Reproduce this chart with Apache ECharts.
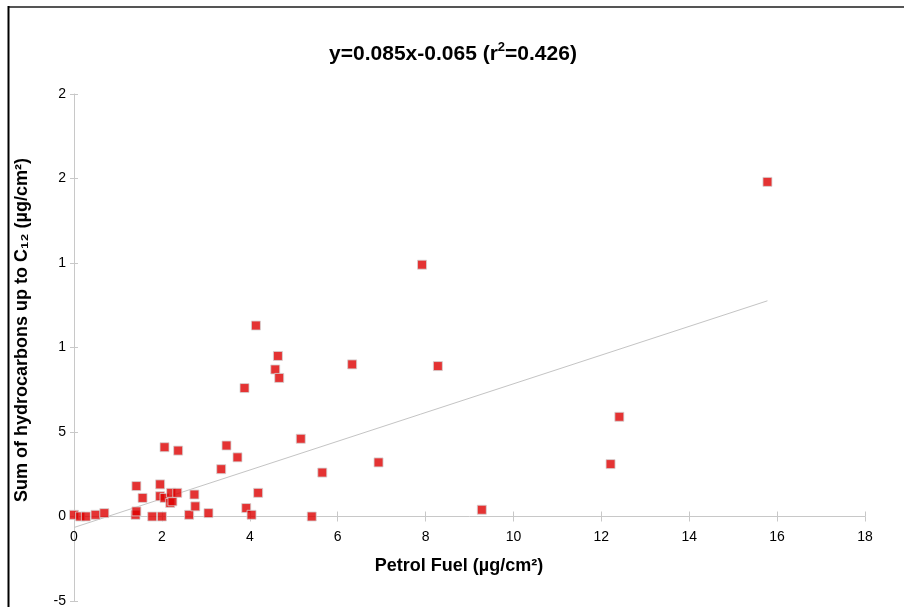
<!DOCTYPE html>
<html>
<head>
<meta charset="utf-8">
<title>Petrol fuel vs hydrocarbons</title>
<script src="https://cdn.jsdelivr.net/npm/echarts@6/dist/echarts.min.js"></script>
<style>
  html, body { margin: 0; padding: 0; background: #fff; }
  #chart { width: 904px; height: 607px; }
</style>
</head>
<body>
<div id="chart"></div>
<script>
// Petrol fuel deposit (µg/cm²) for each sample
var petrolFuel = [
  0.00, 0.14, 0.27, 0.49, 0.69, 1.40, 1.42, 1.42, 1.56, 1.78,
  1.96, 1.96, 2.00, 2.06, 2.06, 2.19, 2.24, 2.21, 2.35, 2.37,
  2.62, 2.74, 2.76, 3.06, 3.35, 3.47, 3.72, 3.88, 3.92, 4.04,
  4.14, 4.19, 4.58, 4.64, 4.67, 5.16, 5.41, 5.65, 6.33, 6.93,
  7.92, 8.28, 9.28, 12.21, 12.41, 15.78
];
// Sum of hydrocarbons up to C12 (µg/cm²) for the same samples
var hydrocarbons = [
  0.01, 0.00, 0.00, 0.01, 0.02, 0.01, 0.03, 0.18, 0.11, 0.00,
  0.19, 0.12, 0.00, 0.41, 0.11, 0.08, 0.09, 0.14, 0.14, 0.39,
  0.01, 0.13, 0.06, 0.02, 0.28, 0.42, 0.35, 0.76, 0.05, 0.01,
  1.13, 0.14, 0.87, 0.95, 0.82, 0.46, 0.00, 0.26, 0.90, 0.32,
  1.49, 0.89, 0.04, 0.31, 0.59, 1.98
];
// Linear fit stated in the title
var fitSlope = 0.085;
var fitIntercept = -0.065;
var fitR2 = 0.426;

// Axis ranges, tick values and the labels printed beside them
var xRange = [0, 18];
var yRange = [-0.5, 2.5];
var yTickValues = [-0.5, 0, 0.5, 1, 1.5, 2, 2.5];
var yTickLabels = ['-5', '0', '5', '1', '1', '2', '2'];
var xTickLabels = ['0', '2', '4', '6', '8', '10', '12', '14', '16', '18'];

var points = petrolFuel.map(function (x, i) { return [x, hydrocarbons[i]]; });
var xMin = Math.min.apply(null, petrolFuel);
var xMax = Math.max.apply(null, petrolFuel);
var fitLine = [
  [xMin, fitSlope * xMin + fitIntercept],
  [xMax, fitSlope * xMax + fitIntercept]
];

var FONT = "'Liberation Sans', Arial, Helvetica, sans-serif";
var AXIS_GREY = '#c8c8c8';

// Plot area geometry
var W = 904, H = 607;
var PLOT = { left: 74, right: 39, top: 94, bottom: 6 };
var plotHeight = H - PLOT.top - PLOT.bottom;
// pixel row of y = 0 inside the plot area
var zeroRow = PLOT.top + plotHeight * (yRange[1] - 0) / (yRange[1] - yRange[0]);

function yLabel(v) {
  for (var i = 0; i < yTickValues.length; i++) {
    if (Math.abs(yTickValues[i] - v) < 1e-6) return yTickLabels[i];
  }
  return '';
}
function xLabel(v) {
  var i = Math.round(v / 2);
  return xTickLabels[i] !== undefined ? xTickLabels[i] : '';
}

var chart = echarts.init(document.getElementById('chart'), null, { renderer: 'canvas' });

var titleText = '{m|y=' + fitSlope.toFixed(3) + 'x' + fitIntercept.toFixed(3) + ' (r}{s|2}{m|=' + fitR2.toFixed(3) + ')}';

var hiddenY = function (gi) {
  return { type: 'value', gridIndex: gi, min: 0, max: 1, show: false };
};

var option = {
  backgroundColor: '#ffffff',
  animation: false,
  title: {
    text: titleText,
    left: 448,
    top: 36,
    textAlign: 'center',
    textStyle: {
      fontFamily: FONT, fontSize: 21, fontWeight: 'bold', color: '#000',
      rich: {
        m: { fontFamily: FONT, fontSize: 21, fontWeight: 'bold', color: '#000', verticalAlign: 'bottom', lineHeight: 24 },
        s: { fontFamily: FONT, fontSize: 13, fontWeight: 'bold', color: '#000', verticalAlign: 'top', lineHeight: 24, padding: [0, 0, 9, 0] }
      }
    }
  },
  grid: [
    // data area
    { left: PLOT.left, right: PLOT.right, top: PLOT.top, bottom: PLOT.bottom, containLabel: false, outerBoundsMode: 'none' },
    // band ending at y = 0: carries the x axis line, lower tick halves and labels
    { left: PLOT.left, right: PLOT.right, top: PLOT.top, bottom: H - zeroRow, containLabel: false, outerBoundsMode: 'none' },
    // band starting at y = 0: carries the upper tick halves
    { left: PLOT.left, right: PLOT.right, top: zeroRow, bottom: PLOT.bottom, containLabel: false, outerBoundsMode: 'none' }
  ],
  xAxis: [
    { type: 'value', gridIndex: 0, min: xRange[0], max: xRange[1], interval: 2, show: false },
    {
      type: 'value', gridIndex: 1, min: xRange[0], max: xRange[1], interval: 2, position: 'bottom',
      axisLine: { show: true, onZero: false, lineStyle: { color: AXIS_GREY, width: 1 } },
      axisTick: { show: true, inside: false, length: 5, lineStyle: { color: AXIS_GREY } },
      axisLabel: { formatter: xLabel, margin: 14, color: '#000', fontFamily: FONT, fontSize: 14 },
      splitLine: { show: false }
    },
    {
      type: 'value', gridIndex: 2, min: xRange[0], max: xRange[1], interval: 2, position: 'top',
      axisLine: { show: false, onZero: false },
      axisTick: { show: true, inside: false, length: 5, lineStyle: { color: AXIS_GREY } },
      axisLabel: { show: false },
      splitLine: { show: false }
    }
  ],
  yAxis: [
    {
      type: 'value', gridIndex: 0, min: yRange[0], max: yRange[1], interval: 0.5, position: 'left',
      axisLine: { show: true, onZero: false, lineStyle: { color: AXIS_GREY, width: 1 } },
      axisTick: { show: true, inside: false, length: 4, lineStyle: { color: AXIS_GREY } },
      axisLabel: { formatter: yLabel, margin: 8, color: '#000', fontFamily: FONT, fontSize: 14 },
      splitLine: { show: false }
    },
    {
      // right-pointing tick halves, pulled back onto the left edge
      type: 'value', gridIndex: 0, min: yRange[0], max: yRange[1], interval: 0.5, position: 'right',
      offset: -(W - PLOT.left - PLOT.right),
      axisLine: { show: false, onZero: false },
      axisTick: { show: true, inside: false, length: 4, lineStyle: { color: AXIS_GREY } },
      axisLabel: { show: false },
      splitLine: { show: false }
    },
    hiddenY(1),
    hiddenY(2)
  ],
  graphic: [
    {
      type: 'line', silent: true, z: 100,
      shape: { x1: 8, y1: 7, x2: W, y2: 7 },
      style: { stroke: '#555555', lineWidth: 2 }
    },
    {
      type: 'line', silent: true, z: 100,
      shape: { x1: 8.5, y1: 6, x2: 8.5, y2: H },
      style: { stroke: '#000000', lineWidth: 2 }
    },
    {
      type: 'text', silent: true,
      x: 459, y: 566,
      style: {
        text: 'Petrol Fuel (\u00B5g/cm\u00B2)',
        align: 'center', verticalAlign: 'middle',
        font: 'bold 18px ' + FONT, fill: '#000'
      }
    },
    {
      type: 'text', silent: true,
      x: 22, y: 330, rotation: Math.PI / 2,
      style: {
        text: 'Sum of hydrocarbons up to C\u2081\u2082 (\u00B5g/cm\u00B2)',
        align: 'center', verticalAlign: 'middle',
        font: 'bold 18px ' + FONT, fill: '#000'
      }
    }
  ],
  series: [
    {
      name: 'Linear fit',
      type: 'line',
      xAxisIndex: 0, yAxisIndex: 0,
      data: fitLine,
      showSymbol: false,
      symbol: 'none',
      lineStyle: { color: '#c4c4c4', width: 1 },
      z: 1
    },
    {
      name: 'Samples',
      type: 'scatter',
      xAxisIndex: 0, yAxisIndex: 0,
      data: points,
      symbol: 'rect',
      symbolSize: 9,
      itemStyle: { color: '#dd0000', borderColor: '#d4d4d4', borderWidth: 1 },
      z: 3
    }
  ]
};

chart.setOption(option);
</script>
</body>
</html>
